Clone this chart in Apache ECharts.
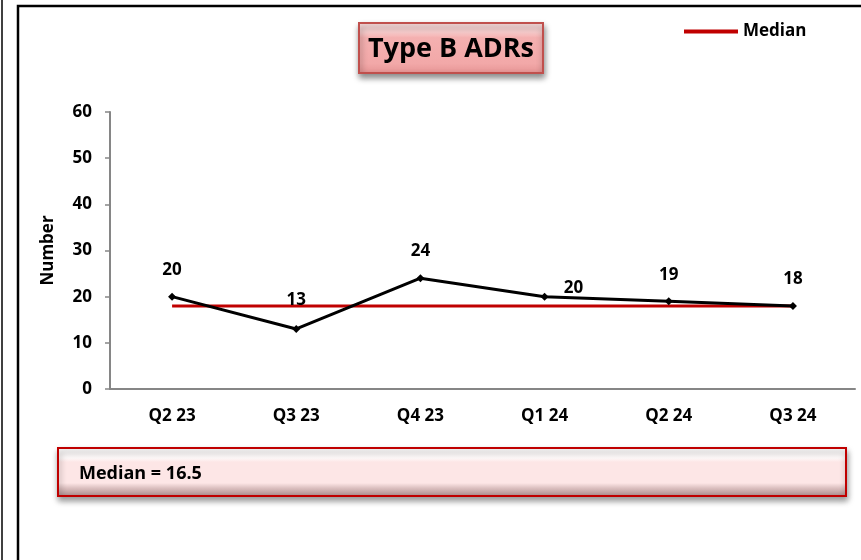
<!DOCTYPE html>
<html>
<head>
<meta charset="utf-8">
<script src="https://cdn.jsdelivr.net/npm/echarts@6/dist/echarts.min.js"></script>
<style>
  html, body { margin: 0; padding: 0; background: #fff; }
  #chart { width: 861px; height: 560px; }
</style>
</head>
<body>
<div id="chart"></div>
<script>
const quarters = ['Q2 23', 'Q3 23', 'Q4 23', 'Q1 24', 'Q2 24', 'Q3 24'];
const adrCounts = [20, 13, 24, 20, 19, 18];
const medianLine = [18, 18, 18, 18, 18, 18];
const yTicks = { min: 0, max: 60, interval: 10 };
const titleText = 'Type B ADRs';
const medianNote = 'Median = 16.5';

const font = '"Open Sans", Lato, sans-serif';

// labels sit above the points, the Q1 24 one is pushed right
const labelOffsets = [[0, -2], [0, -4], [0, -3], [29, 16], [0, -2], [0, -2]];

const chart = echarts.init(document.getElementById('chart'));

const option = {
    animation: false,
    grid: { left: 110, top: 112, right: 6, bottom: 171 },
    legend: {
        data: [{ name: 'Median', icon: 'rect' }],
        left: 679,
        top: 18,
        itemWidth: 54,
        itemHeight: 4,
        itemGap: 4,
        textStyle: { fontFamily: font, fontWeight: 'bold', fontSize: 17, color: '#000' }
    },
    xAxis: {
        type: 'category',
        data: quarters,
        boundaryGap: true,
        axisLine: { lineStyle: { color: '#868686', width: 2 } },
        axisTick: { show: false },
        axisLabel: {
            margin: 19,
            fontFamily: font, fontWeight: 'bold', fontSize: 17, color: '#000'
        },
        splitLine: { show: false }
    },
    yAxis: {
        type: 'value',
        min: yTicks.min,
        max: yTicks.max,
        interval: yTicks.interval,
        name: 'Number',
        nameLocation: 'middle',
        nameGap: 53,
        nameTextStyle: { fontFamily: font, fontWeight: 'bold', fontSize: 17, color: '#000' },
        axisLine: { show: true, lineStyle: { color: '#868686', width: 2 } },
        axisTick: { show: true, length: 5, lineStyle: { color: '#868686', width: 1.5 } },
        axisLabel: {
            margin: 18,
            fontFamily: font, fontWeight: 'bold', fontSize: 17, color: '#000'
        },
        splitLine: { show: false }
    },
    series: [
        {
            name: 'Type B ADRs',
            type: 'line',
            data: adrCounts.map((v, i) => ({
                value: v,
                label: { offset: labelOffsets[i] }
            })),
            symbol: 'diamond',
            symbolSize: 8,
            lineStyle: { color: '#000', width: 3 },
            itemStyle: { color: '#000' },
            label: {
                show: true,
                position: 'top',
                distance: 12,
                fontFamily: font, fontWeight: 'bold', fontSize: 17, color: '#000'
            },
            z: 3
        },
        {
            name: 'Median',
            type: 'line',
            data: medianLine,
            showSymbol: false,
            symbol: 'none',
            lineStyle: { color: '#c00000', width: 3 },
            itemStyle: { color: '#c00000' },
            z: 2
        }
    ],
    graphic: [
        // outer frame of the slide
        {
            type: 'line',
            shape: { x1: 2, y1: 0, x2: 2, y2: 560 },
            style: { stroke: '#000', lineWidth: 1.5 }
        },
        {
            type: 'rect',
            shape: { x: 18, y: 6, width: 900, height: 600 },
            style: { fill: 'none', stroke: '#000', lineWidth: 2.5 },
            silent: true
        },
        // title box
        {
            type: 'group',
            left: 358,
            top: 22,
            children: [
                {
                    type: 'rect',
                    shape: { x: 0, y: 0, width: 184, height: 50 },
                    style: {
                        fill: new echarts.graphic.LinearGradient(0, 0, 0, 1, [
                            { offset: 0, color: '#fde4e4' },
                            { offset: 0.2, color: '#f9cccc' },
                            { offset: 0.3, color: '#f4b0b0' },
                            { offset: 0.8, color: '#f2a8a8' },
                            { offset: 1, color: '#e59393' }
                        ]),
                        stroke: '#c0504d',
                        lineWidth: 2,
                        shadowBlur: 6,
                        shadowOffsetX: 1,
                        shadowOffsetY: 4,
                        shadowColor: 'rgba(0,0,0,0.45)'
                    }
                },
                {
                    type: 'text',
                    x: 92,
                    y: 26,
                    style: {
                        text: titleText,
                        fill: '#000',
                        font: 'bold 27px ' + font,
                        align: 'center',
                        verticalAlign: 'middle'
                    }
                }
            ]
        },
        // median note box
        {
            type: 'group',
            left: 57,
            top: 447,
            children: [
                {
                    type: 'rect',
                    shape: { x: 0, y: 0, width: 788, height: 48 },
                    style: {
                        fill: new echarts.graphic.LinearGradient(0, 0, 0, 1, [
                            { offset: 0, color: '#ffffff' },
                            { offset: 0.22, color: '#fffafa' },
                            { offset: 0.3, color: '#fde6e6' },
                            { offset: 0.72, color: '#fde6e6' },
                            { offset: 0.82, color: '#dcc0c0' },
                            { offset: 1, color: '#a88888' }
                        ]),
                        stroke: '#c00000',
                        lineWidth: 2,
                        shadowBlur: 6,
                        shadowOffsetX: 1,
                        shadowOffsetY: 4,
                        shadowColor: 'rgba(0,0,0,0.4)'
                    }
                },
                {
                    type: 'text',
                    x: 21,
                    y: 26,
                    style: {
                        text: medianNote,
                        fill: '#000',
                        font: 'bold 18px ' + font,
                        align: 'left',
                        verticalAlign: 'middle'
                    }
                }
            ]
        }
    ]
};

chart.setOption(option);

window.addEventListener('resize', () => {
    chart.resize();
});
</script>
</body>
</html>
